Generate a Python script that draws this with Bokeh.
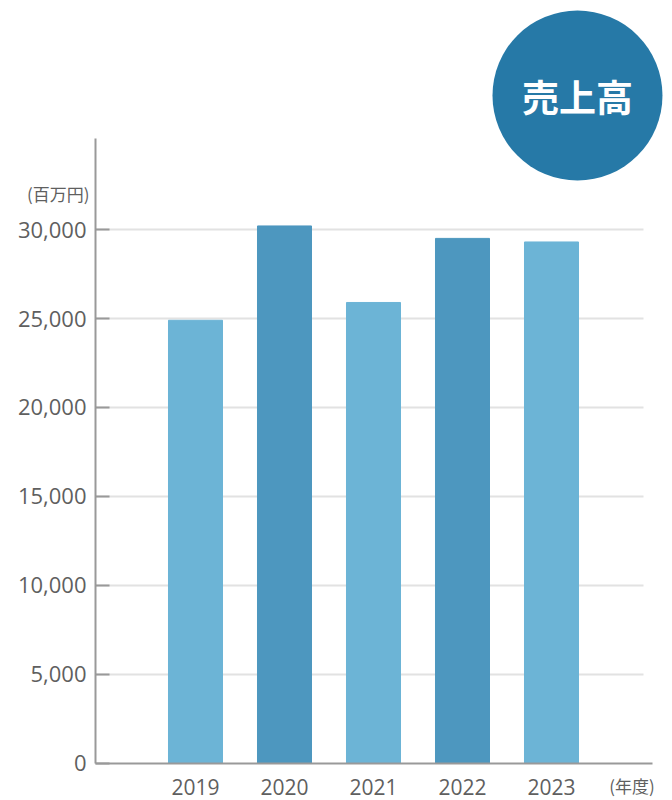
from bokeh.plotting import figure
from bokeh.models import FixedTicker, Label, ColumnDataSource
from bokeh.embed import file_html
from bokeh.resources import INLINE

# ---- data ----
years = ["2019", "2020", "2021", "2022", "2023"]
sales = [24900, 30200, 25900, 29500, 29300]
bar_colors = ["#6cb4d6", "#4d97bf", "#6cb4d6", "#4d97bf", "#6cb4d6"]
y_ticks = [0, 5000, 10000, 15000, 20000, 25000, 30000]
y_unit = "(百万円)"
x_unit = "(年度)"
title_text = "売上高"

idx = list(range(len(years)))

# ---- layout constants (screen geometry expressed in data units) ----
X_AXIS_POS = -1.1236      # where the value axis stands
X_AXIS_END = 5.1315
GRID_END = 5.0303
Y_AXIS_TOP = 35112

W, H = 672, 800
p = figure(width=W, height=H, output_backend="svg", toolbar_location=None,
           x_range=(-2.1910, 5.3596), y_range=(-2078.7, 42865.2),
           min_border=0)
p.outline_line_color = None
p.background_fill_color = "white"
p.border_fill_color = "white"

src = ColumnDataSource(dict(x=idx, top=sales, color=bar_colors))
p.vbar(x="x", top="top", width=0.607, color="color", source=src)

# axes
grey = "#999999"
lab = "#5f5f5f"
ya = p.yaxis[0]
ya.fixed_location = X_AXIS_POS
ya.ticker = FixedTicker(ticks=y_ticks)
ya.bounds = (0, Y_AXIS_TOP)
ya.axis_line_color = grey
ya.axis_line_width = 2
ya.major_tick_line_color = grey
ya.major_tick_line_width = 2
ya.major_tick_in = 14
ya.major_tick_out = 0
ya.minor_tick_line_color = None
ya.major_label_text_font = "Open Sans"
ya.major_label_text_font_size = "22px"
ya.major_label_text_color = lab
ya.major_label_standoff = 9
ya.major_label_overrides = {t: f"{t:,}" for t in y_ticks}

xa = p.xaxis[0]
xa.fixed_location = 0
xa.ticker = FixedTicker(ticks=idx)
xa.major_label_overrides = {i: y for i, y in zip(idx, years)}
xa.bounds = (X_AXIS_POS, X_AXIS_END)
xa.axis_line_color = grey
xa.axis_line_width = 2
xa.major_tick_line_color = None
xa.minor_tick_line_color = None
xa.major_tick_in = 0
xa.major_tick_out = 0
xa.major_label_text_font = "Open Sans"
xa.major_label_text_font_size = "21px"
xa.major_label_text_color = lab
xa.major_label_standoff = 16

p.xgrid.visible = False
p.ygrid.ticker = FixedTicker(ticks=y_ticks[1:])
p.ygrid.grid_line_color = "#e2e2e2"
p.ygrid.grid_line_width = 2
try:
    p.ygrid.cross_bounds = (X_AXIS_POS, GRID_END)
except Exception:
    pass

# unit labels
p.add_layout(Label(x=-1.191, y=32022, text=y_unit, text_align="right",
                   text_baseline="middle", text_font="Noto Sans CJK JP",
                   text_font_size="17px", text_color=lab))
p.add_layout(Label(x=4.9045, y=-1236, text=x_unit, text_align="center",
                   text_baseline="middle", text_font="Noto Sans CJK JP",
                   text_font_size="17px", text_color=lab))

# title badge
p.scatter(x=[4.292], y=[37528], marker="circle", size=170,
          fill_color="#2679a7", line_color=None)
p.add_layout(Label(x=4.292, y=37528, text=title_text, text_align="center",
                   text_baseline="middle", text_font="Noto Sans CJK JP",
                   text_font_style="bold", text_font_size="37px",
                   text_color="white"))

open("out.html", "w").write(file_html(p, INLINE))
